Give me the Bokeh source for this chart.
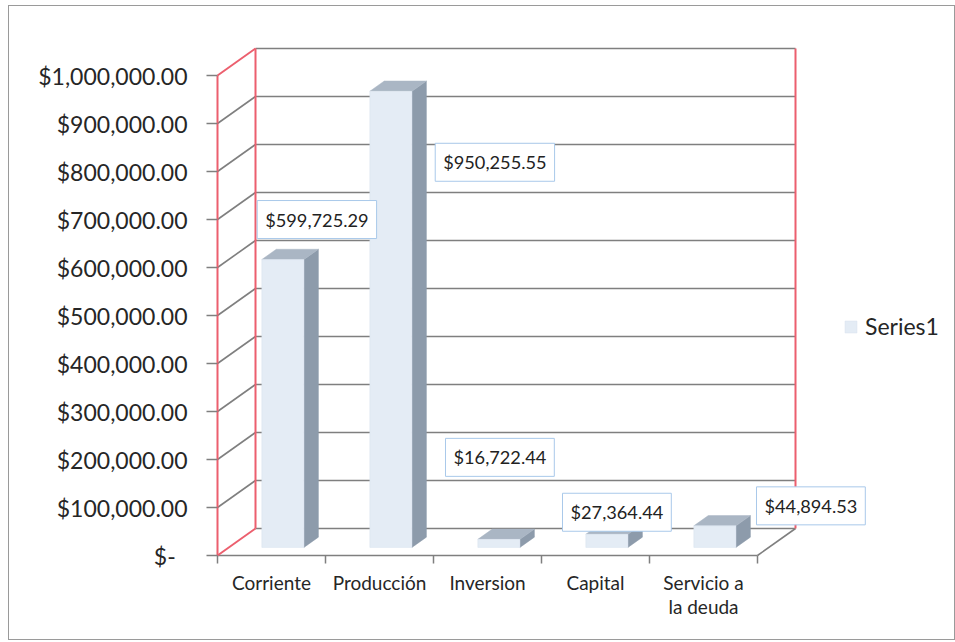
from bokeh.plotting import figure
from bokeh.models import Range1d, FixedTicker, Legend, LegendItem, Label
from bokeh.embed import file_html
from bokeh.resources import INLINE

# ---------------- data ----------------
categories = ["Corriente", "Producción", "Inversion", "Capital", "Servicio a\nla deuda"]
values = [599725.29, 950255.55, 16722.44, 27364.44, 44894.53]
series_name = "Series1"
y_ticks = [0, 100000, 200000, 300000, 400000, 500000, 600000, 700000, 800000, 900000, 1000000]
y_tick_labels = ["$-\u00a0\u00a0", "$100,000.00", "$200,000.00", "$300,000.00", "$400,000.00",
                 "$500,000.00", "$600,000.00", "$700,000.00", "$800,000.00", "$900,000.00",
                 "$1,000,000.00"]

# data-label placement (screen px offsets from each bar's top-front centre)
label_dx = [34, 104, 1, 10, 96]
label_dy = [40, -71, 82, 22, 20]

# ---------------- projection / layout ----------------
PX_PER_CAT = 108.0
PX_PER_VAL = 0.00048
DEPTH_X_PX = 38.0
DEPTH_Y_PX = 27.0
DX = DEPTH_X_PX / PX_PER_CAT
DY = DEPTH_Y_PX / PX_PER_VAL
BAR_HALF = 0.195
Z0, Z1 = 0.30, 0.68
n = len(categories)
y_max = y_ticks[-1]


def P(x, v, z):
    return x + DX * z, v + DY * z


FRAME_W = 741
FRAME_H = 553
PAD = 4  # px between frame edge and the chart's front axis lines

p = figure(frame_width=FRAME_W, frame_height=FRAME_H,
           min_border_left=204, min_border_right=0, min_border_top=0, min_border_bottom=80,
           x_range=Range1d(-PAD / PX_PER_CAT, (FRAME_W - PAD) / PX_PER_CAT),
           y_range=Range1d(-PAD / PX_PER_VAL, (FRAME_H - PAD) / PX_PER_VAL),
           output_backend="svg", toolbar_location=None)
p.styles = {"border": "1px solid #9a9a9a", "margin-left": "8px", "margin-top": "5px"}
p.xgrid.visible = False
p.ygrid.visible = False
p.outline_line_color = None
p.background_fill_color = "white"
p.border_fill_color = "white"

GRID = "#7f7f7f"
RED = "#ec5f6e"

# back-wall gridlines
gx, gy = [], []
for v in y_ticks:
    a = P(0, v, 1)
    b = P(n, v, 1)
    gx.append([a[0], b[0]])
    gy.append([a[1], b[1]])
# side-wall gridlines
for v in y_ticks[1:-1]:
    a = P(0, v, 0)
    b = P(0, v, 1)
    gx.append([a[0], b[0]])
    gy.append([a[1], b[1]])
# floor front and right edges
for (a, b) in [(P(0, 0, 0), P(n, 0, 0)), (P(n, 0, 0), P(n, 0, 1))]:
    gx.append([a[0], b[0]])
    gy.append([a[1], b[1]])
p.multi_line(gx, gy, line_color=GRID, line_width=1.6)

# red wall edges
rx, ry = [], []
for (a, b) in [(P(0, 0, 0), P(0, y_max, 0)), (P(0, 0, 1), P(0, y_max, 1)),
               (P(n, 0, 1), P(n, y_max, 1)), (P(0, y_max, 0), P(0, y_max, 1)),
               (P(0, 0, 0), P(0, 0, 1))]:
    rx.append([a[0], b[0]])
    ry.append([a[1], b[1]])
p.multi_line(rx, ry, line_color=RED, line_width=2)

# bars
fxs, fys, sxs, sys_, txs, tys = [], [], [], [], [], []
for i, v in enumerate(values):
    x0 = i + 0.5 - BAR_HALF
    x1 = i + 0.5 + BAR_HALF
    front = [P(x0, 0, Z0), P(x1, 0, Z0), P(x1, v, Z0), P(x0, v, Z0)]
    side = [P(x1, 0, Z0), P(x1, 0, Z1), P(x1, v, Z1), P(x1, v, Z0)]
    top = [P(x0, v, Z0), P(x1, v, Z0), P(x1, v, Z1), P(x0, v, Z1)]
    fxs.append([q[0] for q in front]); fys.append([q[1] for q in front])
    sxs.append([q[0] for q in side]); sys_.append([q[1] for q in side])
    txs.append([q[0] for q in top]); tys.append([q[1] for q in top])

p.patches(sxs, sys_, fill_color="#8d9bab", line_color="#8d9bab", line_width=0.5)
p.patches(txs, tys, fill_color="#aab6c4", line_color="#aab6c4", line_width=0.5)
front_r = p.patches(fxs, fys, fill_color="#e4ecf5", line_color="#d8e2ee", line_width=0.5)

# data labels
for i, v in enumerate(values):
    ax, ay = P(i + 0.5, v, Z0)
    p.add_layout(Label(x=ax, y=ay, x_offset=label_dx[i], y_offset=label_dy[i],
                       text="${:,.2f}".format(v), text_align="center", text_baseline="middle",
                       text_font="Lato", text_font_size="18.2px", text_color="#222222",
                       padding=8, background_fill_color="white",
                       border_line_color="#a9c9ea", border_line_width=1))

# y axis
yax = p.yaxis[0]
yax.ticker = FixedTicker(ticks=y_ticks, minor_ticks=[])
yax.major_label_overrides = {t: lab for t, lab in zip(y_ticks, y_tick_labels)}
yax.axis_line_color = None
yax.major_tick_line_color = GRID
yax.major_tick_line_width = 1.5
yax.major_tick_out = 7
yax.major_tick_in = PAD
yax.minor_tick_line_color = None
yax.major_label_text_font = "Lato"
yax.major_label_text_font_size = "23px"
yax.major_label_text_color = "#262626"
yax.major_label_standoff = 19

# x axis
xax = p.xaxis[0]
centers = [i + 0.5 for i in range(n)]
xax.ticker = FixedTicker(ticks=centers, minor_ticks=list(range(n + 1)))
xax.major_label_overrides = {c: lab for c, lab in zip(centers, categories)}
xax.axis_line_color = None
xax.major_tick_line_color = None
xax.major_tick_out = 0
xax.major_tick_in = 0
xax.minor_tick_line_color = GRID
xax.minor_tick_line_width = 1.5
xax.minor_tick_in = PAD
xax.minor_tick_out = 4
xax.major_label_text_font = "Lato"
xax.major_label_text_font_size = "19px"
xax.major_label_text_color = "#262626"
xax.major_label_text_line_height = 1.05
xax.major_label_standoff = 7

# legend
legend = Legend(items=[LegendItem(label=series_name, renderers=[front_r])],
                location=(630, 219), padding=0, margin=0, spacing=0,
                glyph_width=15, glyph_height=15, label_standoff=7,
                label_text_font="Lato", label_text_font_size="23px", label_text_color="#262626",
                border_line_color=None, background_fill_alpha=0)
p.add_layout(legend)

open("out.html", "w").write(file_html(p, INLINE))
